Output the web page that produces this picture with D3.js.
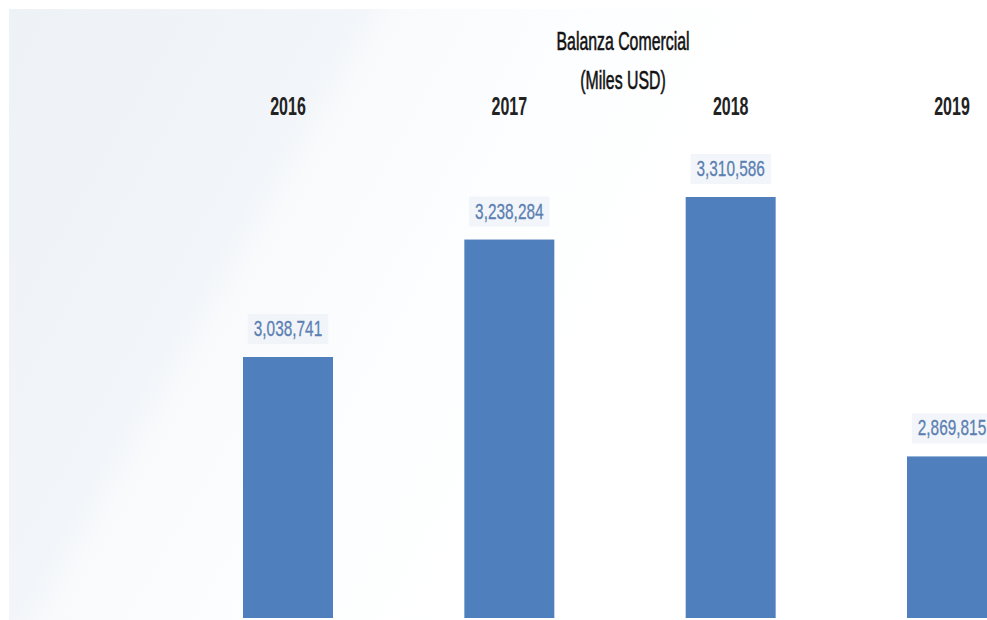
<!DOCTYPE html>
<html>
<head>
<meta charset="utf-8">
<script src="https://cdn.jsdelivr.net/npm/d3@7"></script>
<style>
  html, body { margin: 0; padding: 0; background: #ffffff; }
  svg { display: block; }
  text { font-family: "Liberation Sans", Arial, sans-serif; }
</style>
</head>
<body>
<svg id="chart" width="987" height="620"></svg>
<script>
// Balanza comercial por año (miles de USD)
const years = ["2016", "2017", "2018", "2019"];
const balance = [3038741, 3238284, 3310586, 2869815];
const titleLines = ["Balanza Comercial", "(Miles USD)"];
// lower edge of the visible value range
const axisFloor = 2595300;

const W = 987, H = 620;
const svg = d3.select("#chart");

// soft diagonal background wash
const defs = svg.append("defs");
const grad = defs.append("linearGradient")
  .attr("id", "wash")
  .attr("gradientUnits", "userSpaceOnUse")
  .attr("x1", 0).attr("y1", 0).attr("x2", 620).attr("y2", 350);
[[0, "#edf2f7"], [0.44, "#f2f5f9"], [0.49, "#f8fafc"], [0.75, "#fdfeff"], [1, "#ffffff"]]
  .forEach(([o, c]) => grad.append("stop").attr("offset", o).attr("stop-color", c));
svg.append("rect").attr("x", 9).attr("y", 9).attr("width", W - 9).attr("height", H - 9)
  .attr("fill", "url(#wash)");

const x = d3.scalePoint().domain(years).range([288, 952]);
const y = d3.scaleLinear().domain([axisFloor, d3.max(balance)]).range([618, 197]);
const barW = 90;

const data = years.map((yr, i) => ({ year: yr, value: balance[i] }));
const fmt = d3.format(",");

// bars
svg.append("g").selectAll("rect").data(data).join("rect")
  .attr("x", d => x(d.year) - barW / 2)
  .attr("y", d => y(d.value))
  .attr("width", barW)
  .attr("height", d => y(axisFloor) - y(d.value))
  .attr("fill", "#4f80bd");

// condensed text helper: centred text squeezed horizontally
function squeezed(g, cx, baseline, str, size, factor, fill, weight, stroke) {
  const t = g.append("text")
    .attr("transform", `translate(${cx},${baseline}) scale(${factor},1)`)
    .attr("text-anchor", "middle")
    .attr("font-size", size)
    .attr("font-weight", weight || "normal")
    .attr("fill", fill)
    .text(str);
  if (stroke) t.attr("stroke", fill).attr("stroke-width", stroke);
  return t;
}

// value labels with faint backing boxes
const lab = svg.append("g");
data.forEach(d => {
  const cx = x(d.year), base = y(d.value) - 21;
  const box = lab.append("rect");
  const t = squeezed(lab, cx, base, fmt(d.value), 22, 0.70, "#5b7fb2", "normal", 0.3);
  const w = t.node().getComputedTextLength() * 0.70;
  box.attr("x", cx - w / 2 - 6).attr("y", base - 22)
    .attr("width", w + 12).attr("height", 30)
    .attr("fill", "#eef2f7").attr("opacity", 0.75);
});

// year headers
const hdr = svg.append("g");
years.forEach(yr => squeezed(hdr, x(yr), 115, yr, 25, 0.64, "#222222", "bold"));

// title
const ttl = svg.append("g");
squeezed(ttl, 623, 50, titleLines[0], 26, 0.61, "#111111", "normal", 0.6);
squeezed(ttl, 623, 89, titleLines[1], 26, 0.61, "#111111", "normal", 0.6);
</script>
</body>
</html>
